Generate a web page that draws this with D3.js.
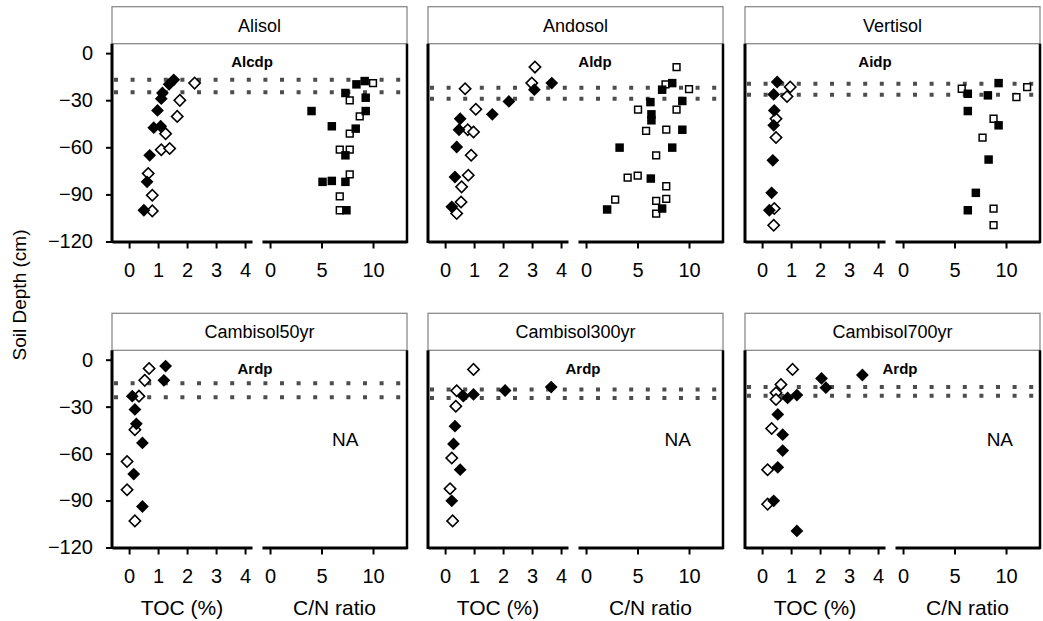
<!DOCTYPE html>
<html>
<head>
<meta charset="utf-8">
<script src="https://cdn.jsdelivr.net/npm/d3@7"></script>
<style>
body { margin: 0; background: #fff; }
svg { display: block; font-family: "Liberation Sans", Arial, sans-serif; }
</style>
</head>
<body>
<svg id="chart" width="1043" height="621"></svg>
<script>
var soils = ["Alisol", "Andosol", "Vertisol", "Cambisol50yr", "Cambisol300yr", "Cambisol700yr"];
var horizons = ["Alcdp", "Aldp", "Aidp", "Ardp", "Ardp", "Ardp"];
var boundUpper = [-17, -22, -19.5, -15, -19, -17.5];
var boundLower = [-25, -29, -26.5, -24, -24.5, -23];
var depthTicks = [0, -30, -60, -90, -120];
var tocTicks = [0, 1, 2, 3, 4];
var cnTicks = [0, 5, 10];

// [value, depth in cm]
var alisolTocFilled = [[1.54,-17],[1.38,-19.9],[1.15,-25.4],[1.11,-29],[0.98,-36.5],[0.85,-47.5],[1.09,-46.6],[0.71,-65.1],[0.62,-82],[0.51,-100.1]];
var alisolTocOpen = [[2.26,-19.1],[1.75,-30.1],[1.66,-40.3],[1.26,-51.3],[1.11,-61.5],[1.4,-60.8],[0.66,-76.7],[0.8,-90.5],[0.8,-100.5]];
var alisolCnFilled = [[9.19,-17.8],[8.39,-19.9],[7.32,-25.4],[9.29,-28.4],[4.03,-36.9],[9.29,-36.9],[6,-46.6],[8.32,-48.1],[7.32,-65.1],[5.1,-82],[6,-81.4],[7.32,-82],[7.42,-100.1]];
var alisolCnOpen = [[10,-19.1],[7.74,-30.1],[8.71,-40.3],[7.74,-51.3],[6.77,-61.5],[7.74,-61.5],[7.74,-77.2],[6.77,-91.2],[6.77,-100.1]];

var andosolTocFilled = [[3.68,-19.1],[3.08,-23.3],[2.2,-30.8],[1.63,-39],[0.52,-41.8],[0.48,-48.8],[0.4,-59.8],[0.34,-78.9],[0.23,-97.9]];
var andosolTocOpen = [[3.1,-8.9],[2.99,-19.1],[0.69,-22.7],[1.06,-35.8],[0.78,-48.8],[0.98,-50.2],[0.9,-65.1],[0.8,-77.8],[0.57,-85.2],[0.55,-94.8],[0.4,-102.2]];
var andosolCnFilled = [[8.37,-19.1],[7.39,-23.3],[9.35,-30.5],[6.25,-31.2],[6.35,-39],[6.35,-42.8],[9.35,-48.8],[3.26,-60.2],[8.37,-60.2],[6.29,-79.9],[7.39,-99],[2.05,-99.6]];
var andosolCnOpen = [[8.79,-8.9],[7.72,-19.9],[10,-22.9],[5.05,-36],[8.79,-36],[5.83,-49.6],[7.79,-48.8],[6.81,-65.1],[4.04,-79.3],[5.02,-78],[7.79,-84.8],[7.79,-92.9],[6.81,-94.1],[2.83,-93.3],[6.81,-102.2]];

var vertisolTocFilled = [[0.52,-18.4],[0.4,-26.3],[0.42,-36.5],[0.4,-46],[0.37,-68.3],[0.33,-89],[0.25,-100.1]];
var vertisolTocOpen = [[0.97,-21.6],[0.86,-27.6],[0.48,-41.8],[0.48,-53.8],[0.42,-99],[0.4,-109.6]];
var vertisolCnFilled = [[9.28,-19.1],[6.29,-25.9],[8.24,-26.9],[6.29,-36.9],[9.28,-46],[8.31,-67.8],[7.07,-89],[6.29,-100.1]];
var vertisolCnOpen = [[5.7,-22.7],[12.05,-21.6],[11.01,-28],[8.79,-41.8],[7.72,-53.8],[8.79,-99],[8.79,-109.6]];

var camb50TocFilled = [[1.26,-4.1],[1.2,-13.2],[0.11,-23.3],[0.2,-31.8],[0.25,-41],[0.46,-53.2],[0.16,-73.1],[0.46,-93.8]];
var camb50TocOpen = [[0.69,-5.6],[0.54,-13.2],[0.34,-23.3],[0.2,-44.7],[-0.07,-65],[-0.07,-83.1],[0.2,-103]];
var camb300TocFilled = [[3.66,-17.5],[2.07,-19.7],[0.98,-22.2],[0.63,-23.3],[0.34,-42.5],[0.29,-53.8],[0.52,-70.3],[0.23,-90.2]];
var camb300TocOpen = [[0.98,-6.2],[0.4,-19.9],[0.37,-29.7],[0.23,-62.8],[0.17,-82.5],[0.26,-103]];
var camb700TocFilled = [[2.05,-12],[2.2,-17.9],[3.46,-9.8],[0.88,-24.4],[1.2,-22.6],[0.54,-35],[0.71,-47.9],[0.71,-58.1],[0.54,-68.8],[0.4,-90.2],[1.2,-109.4]];
var camb700TocOpen = [[1.05,-6.2],[0.65,-15.8],[0.48,-21.2],[0.48,-25.4],[0.33,-44],[0.19,-70.3],[0.19,-92.3]];

var tocFilled = [alisolTocFilled, andosolTocFilled, vertisolTocFilled, camb50TocFilled, camb300TocFilled, camb700TocFilled];
var tocOpen = [alisolTocOpen, andosolTocOpen, vertisolTocOpen, camb50TocOpen, camb300TocOpen, camb700TocOpen];
var cnFilled = [alisolCnFilled, andosolCnFilled, vertisolCnFilled, null, null, null];
var cnOpen = [alisolCnOpen, andosolCnOpen, vertisolCnOpen, null, null, null];

// layout
var panelLeft = [112, 428, 745], panelW = 295;
var stripTop = [6.7, 313.3], stripH = 37;
var plotBottom = [241.5, 547.5];
var labelX = [140, 167, 130, 143, 155, 155];
var naX = [7.3, 8.9, 9.4];

var svg = d3.select("#chart");
var marker = d3.symbol().type(d3.symbolSquare);
var intFmt = d3.format("d");

soils.forEach(function(name, i) {
    var col = i % 3, row = Math.floor(i / 3);
    var L = panelLeft[col];
    var top = stripTop[row] + stripH, bottom = plotBottom[row];
    var g = svg.append("g");

    var y = d3.scaleLinear().domain([-120, 6]).range([bottom, top]);
    var xToc = d3.scaleLinear().domain([-0.59, 4.24]).range([L, L + 140]);
    var xCn = d3.scaleLinear().domain([-0.78, 13.3]).range([L + 150, L + panelW]);

    // strip
    g.append("rect")
        .attr("x", L).attr("y", stripTop[row])
        .attr("width", panelW).attr("height", stripH)
        .attr("fill", "#fff").attr("stroke", "#8a8a8a").attr("stroke-width", 1.3);
    g.append("text")
        .attr("x", L + panelW / 2).attr("y", stripTop[row] + stripH / 2)
        .attr("dy", "0.35em").attr("text-anchor", "middle")
        .style("font-size", "18px").text(name);

    // horizon boundaries
    [boundUpper[i], boundLower[i]].forEach(function(d) {
        g.append("line")
            .attr("x1", L + 2).attr("x2", L + panelW)
            .attr("y1", y(d)).attr("y2", y(d))
            .attr("stroke", "#4d4d4d").attr("stroke-width", 4)
            .attr("stroke-dasharray", "4,12.6");
    });

    g.append("text")
        .attr("x", L + labelX[i]).attr("y", y(-5.5))
        .attr("dy", "0.35em").attr("text-anchor", "middle")
        .style("font-size", "15px").style("font-weight", "bold")
        .text(horizons[i]);

    // TOC diamonds
    g.selectAll(".dOpen").data(tocOpen[i]).enter().append("path")
        .attr("d", marker.size(64))
        .attr("transform", function(d) { return "translate(" + xToc(d[0]) + "," + y(d[1]) + ") rotate(45)"; })
        .attr("fill", "#fff").attr("stroke", "#000").attr("stroke-width", 1.6);
    g.selectAll(".dFill").data(tocFilled[i]).enter().append("path")
        .attr("d", marker.size(82))
        .attr("transform", function(d) { return "translate(" + xToc(d[0]) + "," + y(d[1]) + ") rotate(45)"; })
        .attr("fill", "#000");

    // C/N squares
    if (cnFilled[i]) {
        g.selectAll(".sOpen").data(cnOpen[i]).enter().append("path")
            .attr("d", marker.size(46))
            .attr("transform", function(d) { return "translate(" + xCn(d[0]) + "," + y(d[1]) + ")"; })
            .attr("fill", "#fff").attr("stroke", "#000").attr("stroke-width", 1.5);
        g.selectAll(".sFill").data(cnFilled[i]).enter().append("path")
            .attr("d", marker.size(72))
            .attr("transform", function(d) { return "translate(" + xCn(d[0]) + "," + y(d[1]) + ")"; })
            .attr("fill", "#000");
    } else {
        g.append("text")
            .attr("x", xCn(naX[col])).attr("y", y(-51))
            .attr("dy", "0.35em").attr("text-anchor", "middle")
            .style("font-size", "19px").text("NA");
    }

    // frame lines
    g.append("line").attr("x1", L).attr("x2", L).attr("y1", top).attr("y2", bottom + 1.5)
        .attr("stroke", "#000").attr("stroke-width", 3);
    g.append("line").attr("x1", L + panelW).attr("x2", L + panelW).attr("y1", top).attr("y2", bottom + 1.5)
        .attr("stroke", "#000").attr("stroke-width", 2.5);

    // bottom axes
    var axToc = g.append("g").attr("transform", "translate(0," + bottom + ")")
        .call(d3.axisBottom(xToc).tickValues(tocTicks).tickFormat(intFmt).tickSize(7).tickSizeOuter(0).tickPadding(14));
    var axCn = g.append("g").attr("transform", "translate(0," + bottom + ")")
        .call(d3.axisBottom(xCn).tickValues(cnTicks).tickFormat(intFmt).tickSize(7).tickSizeOuter(0).tickPadding(14));
    [axToc, axCn].forEach(function(ax) {
        ax.select(".domain").attr("stroke-width", 3);
        ax.selectAll(".tick line").attr("stroke-width", 2);
        ax.selectAll("text").style("font-size", "20px")
            .style("font-family", "'Liberation Sans', Arial, sans-serif");
    });

    if (col === 0) {
        var axY = g.append("g").attr("transform", "translate(" + L + ",0)")
            .call(d3.axisLeft(y).tickValues(depthTicks).tickSize(6).tickPadding(13));
        axY.select(".domain").remove();
        axY.selectAll(".tick line").attr("stroke-width", 2);
        axY.selectAll("text").style("font-size", "20px")
            .style("font-family", "'Liberation Sans', Arial, sans-serif");
    }

    if (row === 1) {
        g.append("text").attr("x", L + 70).attr("y", 615)
            .attr("text-anchor", "middle").style("font-size", "21px").text("TOC (%)");
        g.append("text").attr("x", L + 150 + (panelW - 150) / 2).attr("y", 615)
            .attr("text-anchor", "middle").style("font-size", "21px").text("C/N ratio");
    }
});

svg.append("text")
    .attr("transform", "translate(26,295) rotate(-90)")
    .attr("text-anchor", "middle")
    .style("font-size", "19px")
    .text("Soil Depth (cm)");
</script>
</body>
</html>
